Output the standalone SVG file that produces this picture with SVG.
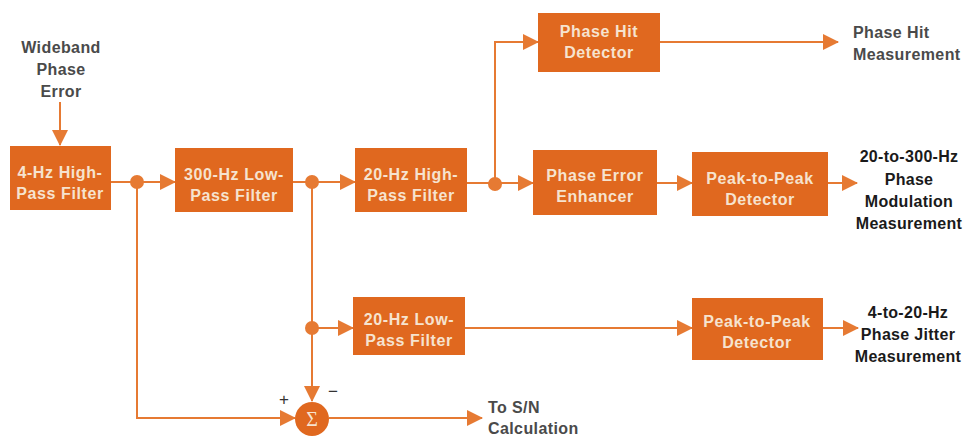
<svg xmlns="http://www.w3.org/2000/svg" width="973" height="438" viewBox="0 0 973 438">
<defs>
<marker id="ah" markerUnits="userSpaceOnUse" markerWidth="16" markerHeight="16" refX="15" refY="8" orient="auto">
<path d="M0,0 L16,8 L0,16 Z" fill="#E67A33"/>
</marker>
<style>
.box{fill:#E0681F}
.bt{font-family:"Liberation Sans",Arial,sans-serif;font-weight:bold;font-size:16px;fill:#F6E3CF;text-anchor:middle;letter-spacing:0.6px}
.lbl{font-family:"Liberation Sans",Arial,sans-serif;font-weight:bold;font-size:16px;fill:#4a4a4a;letter-spacing:0.4px}
.lblk{font-family:"Liberation Sans",Arial,sans-serif;font-weight:bold;font-size:16px;fill:#1a1a1a;text-anchor:middle;letter-spacing:0.3px}
.c{fill:none;stroke:#E67A33;stroke-width:2}
.dot{fill:#E67A33}
</style>
</defs>
<rect width="973" height="438" fill="#FFFFFF"/>
<g id="connectors">
<line class="c" x1="60" y1="102" x2="60" y2="145" marker-end="url(#ah)"/>
<line class="c" x1="111" y1="182" x2="175" y2="182" marker-end="url(#ah)"/>
<polyline class="c" points="137,182 137,418 295,418" marker-end="url(#ah)"/>
<line class="c" x1="293" y1="182" x2="355" y2="182" marker-end="url(#ah)"/>
<line class="c" x1="312" y1="182" x2="312" y2="401" marker-end="url(#ah)"/>
<line class="c" x1="312" y1="328" x2="353" y2="328" marker-end="url(#ah)"/>
<line class="c" x1="467" y1="183" x2="533" y2="183" marker-end="url(#ah)"/>
<polyline class="c" points="495,183 495,42 538,42" marker-end="url(#ah)"/>
<line class="c" x1="660" y1="42" x2="838" y2="42" marker-end="url(#ah)"/>
<line class="c" x1="657" y1="183" x2="692" y2="183" marker-end="url(#ah)"/>
<line class="c" x1="828" y1="183" x2="857" y2="183" marker-end="url(#ah)"/>
<line class="c" x1="465" y1="328" x2="692" y2="328" marker-end="url(#ah)"/>
<line class="c" x1="823" y1="328" x2="858" y2="328" marker-end="url(#ah)"/>
<line class="c" x1="329" y1="418" x2="482" y2="418" marker-end="url(#ah)"/>
<circle class="dot" cx="137" cy="182" r="7"/>
<circle class="dot" cx="312" cy="182" r="7"/>
<circle class="dot" cx="312" cy="328" r="7"/>
<circle class="dot" cx="495" cy="184" r="7"/>
</g>
<g id="input-label">
<text class="lbl" text-anchor="middle" x="61" y="53">Wideband</text>
<text class="lbl" text-anchor="middle" x="61" y="75">Phase</text>
<text class="lbl" text-anchor="middle" x="61" y="97">Error</text>
</g>
<g id="hp4">
<rect class="box" x="10" y="146" width="101" height="64"/>
<text class="bt" x="60" y="178">4-Hz High-</text>
<text class="bt" x="60" y="199">Pass Filter</text>
</g>
<g id="lp300">
<rect class="box" x="175" y="148" width="118" height="64"/>
<text class="bt" x="234" y="180">300-Hz Low-</text>
<text class="bt" x="234" y="201">Pass Filter</text>
</g>
<g id="hp20">
<rect class="box" x="355" y="148" width="112" height="64"/>
<text class="bt" x="411" y="180">20-Hz High-</text>
<text class="bt" x="411" y="201">Pass Filter</text>
</g>
<g id="phasehit">
<rect class="box" x="538" y="13" width="122" height="59"/>
<text class="bt" x="599" y="37">Phase Hit</text>
<text class="bt" x="599" y="58">Detector</text>
</g>
<g id="enhancer">
<rect class="box" x="533" y="150" width="124" height="65"/>
<text class="bt" x="595" y="181">Phase Error</text>
<text class="bt" x="595" y="202">Enhancer</text>
</g>
<g id="p2p1">
<rect class="box" x="692" y="152" width="136" height="64"/>
<text class="bt" x="760" y="184">Peak-to-Peak</text>
<text class="bt" x="760" y="205">Detector</text>
</g>
<g id="lp20">
<rect class="box" x="353" y="297" width="112" height="58"/>
<text class="bt" x="409" y="325">20-Hz Low-</text>
<text class="bt" x="409" y="346">Pass Filter</text>
</g>
<g id="p2p2">
<rect class="box" x="692" y="298" width="131" height="62"/>
<text class="bt" x="757" y="327">Peak-to-Peak</text>
<text class="bt" x="757" y="348">Detector</text>
</g>
<g id="sigma">
<circle class="box" cx="312" cy="419" r="17"/>
<text class="bt" x="312" y="426" style="font-family:'Liberation Serif',serif;font-weight:normal;font-size:20px;letter-spacing:0">Σ</text>
<text class="lbl" x="279" y="405" style="font-weight:normal;font-size:17px;fill:#333">+</text>
<text class="lbl" x="328" y="397" style="font-weight:normal;font-size:17px;fill:#333">−</text>
</g>
<g id="out-phasehit">
<text class="lbl" x="853" y="38">Phase Hit</text>
<text class="lbl" x="853" y="60">Measurement</text>
</g>
<g id="out-pm">
<text class="lblk" x="909" y="162">20-to-300-Hz</text>
<text class="lblk" x="909" y="185">Phase</text>
<text class="lblk" x="909" y="207">Modulation</text>
<text class="lblk" x="909" y="229">Measurement</text>
</g>
<g id="out-jitter">
<text class="lblk" x="908" y="318">4-to-20-Hz</text>
<text class="lblk" x="908" y="340">Phase Jitter</text>
<text class="lblk" x="908" y="362">Measurement</text>
</g>
<g id="out-sn">
<text class="lbl" x="488" y="413">To S/N</text>
<text class="lbl" x="488" y="434">Calculation</text>
</g>
</svg>
